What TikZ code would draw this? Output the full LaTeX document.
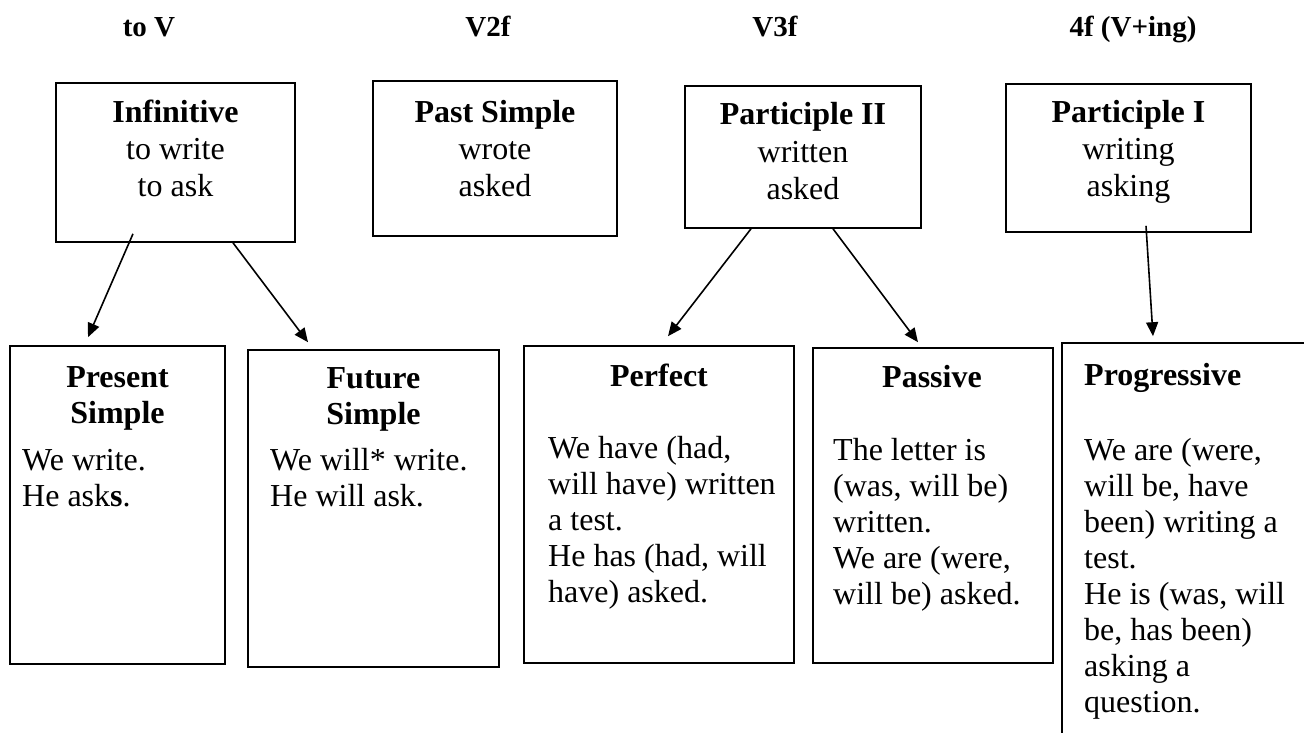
\documentclass[tikz,border=0pt]{standalone}
\usepackage{fontspec}
\setmainfont{Liberation Serif}
\usetikzlibrary{arrows.meta}

\begin{document}
\begin{tikzpicture}
[every node/.style={inner sep=0pt},
 box/.style={rectangle, draw=black, line width=1.6pt},
 hdr/.style={font=\fontsize{29}{34}\selectfont\bfseries, anchor=base},
 top/.style={font=\fontsize{32}{37}\selectfont, anchor=base},
 ttl/.style={font=\fontsize{32}{36}\selectfont\bfseries, anchor=base},
 body/.style={font=\fontsize{32}{36}\selectfont, anchor=base west},
 arr/.style={line width=1.6pt, -{Triangle[length=14pt,width=12pt]}}]
\useasboundingbox (0pt,0pt) rectangle (1304pt,-733pt);
\clip (0pt,0pt) rectangle (1304pt,-733pt);
% column heads
\node (toV) [hdr] at (149pt, -37pt) {to V};
\node (vtwo) [hdr] at (488pt, -37pt) {V2f};
\node (vthree) [hdr] at (775pt, -37pt) {V3f};
\node (vfour) [hdr] at (1133pt, -37pt) {4f (V+ing)};
% upper boxes
\node (inf) [box, minimum width=239pt, minimum height=159pt] at (175.5pt, -162.5pt) {};
\node (past) [box, minimum width=244pt, minimum height=155pt] at (495pt, -158.5pt) {};
\node (ptwo) [box, minimum width=236pt, minimum height=142pt] at (803pt, -157pt) {};
\node (pone) [box, minimum width=245pt, minimum height=148pt] at (1128.5pt, -158pt) {};
\node (infT) [top] at (175.5pt, -123pt) {\begin{tabular}[t]{@{}c@{}}\textbf{Infinitive}\\to write\\to ask\end{tabular}};
\node (pastT) [top] at (495pt, -123pt) {\begin{tabular}[t]{@{}c@{}}\textbf{Past Simple}\\wrote\\asked\end{tabular}};
\node (ptwoT) [top] at (803pt, -125pt) {\begin{tabular}[t]{@{}c@{}}\textbf{Participle II}\\written\\asked\end{tabular}};
\node (poneT) [top] at (1128.5pt, -123pt) {\begin{tabular}[t]{@{}c@{}}\textbf{Participle I}\\writing\\asking\end{tabular}};
% lower boxes
\node (pres) [box, minimum width=215pt, minimum height=318pt] at (117.5pt, -505pt) {};
\node (fut) [box, minimum width=251pt, minimum height=317pt] at (373.5pt, -508.5pt) {};
\node (perf) [box, minimum width=270pt, minimum height=317pt] at (659pt, -504.5pt) {};
\node (pass) [box, minimum width=240pt, minimum height=315pt] at (933pt, -505.5pt) {};
\node (prog) [box, minimum width=258pt, minimum height=407pt] at (1191pt, -546.5pt) {};
\node (presT) [ttl] at (117.5pt, -387pt) {\begin{tabular}[t]{@{}c@{}}Present\\Simple\end{tabular}};
\node (futT) [ttl] at (373.5pt, -388pt) {\begin{tabular}[t]{@{}c@{}}Future\\Simple\end{tabular}};
\node (perfT) [ttl] at (659pt, -386pt) {Perfect};
\node (passT) [ttl] at (932pt, -387pt) {Passive};
\node (progT) [ttl, anchor=base west] at (1084pt, -385pt) {Progressive};
\node (presB) [body] at (22pt, -470pt) {\begin{tabular}[t]{@{}l@{}}We write.\\He ask\textbf{s}.\end{tabular}};
\node (futB) [body] at (270pt, -470pt) {\begin{tabular}[t]{@{}l@{}}We will* write.\\He will ask.\end{tabular}};
\node (perfB) [body] at (548pt, -458pt) {\begin{tabular}[t]{@{}l@{}}We have (had,\\will have) written\\a test.\\He has (had, will\\have) asked.\end{tabular}};
\node (passB) [body] at (833pt, -460pt) {\begin{tabular}[t]{@{}l@{}}The letter is\\(was, will be)\\written.\\We are (were,\\will be) asked.\end{tabular}};
\node (progB) [body] at (1084pt, -460pt) {\begin{tabular}[t]{@{}l@{}}We are (were,\\will be, have\\been) writing a\\test.\\He is (was, will\\be, has been)\\asking a\\question.\end{tabular}};
% arrows
\draw [arr] ([xshift=-42.5pt, yshift=9pt]inf.south) -- ([xshift=-29.5pt, yshift=8pt]pres.north);
\draw [arr] ([xshift=57.5pt]inf.south) -- ([xshift=-65.5pt, yshift=7pt]fut.north);
\draw [arr] ([xshift=-52pt]ptwo.south) -- ([xshift=9pt, yshift=9pt]perf.north);
\draw [arr] ([xshift=30pt]ptwo.south) -- ([xshift=-15pt, yshift=5pt]pass.north);
\draw [arr] ([xshift=17.5pt, yshift=7pt]pone.south) -- ([xshift=-38pt, yshift=6pt]prog.north);
\end{tikzpicture}
\end{document}
